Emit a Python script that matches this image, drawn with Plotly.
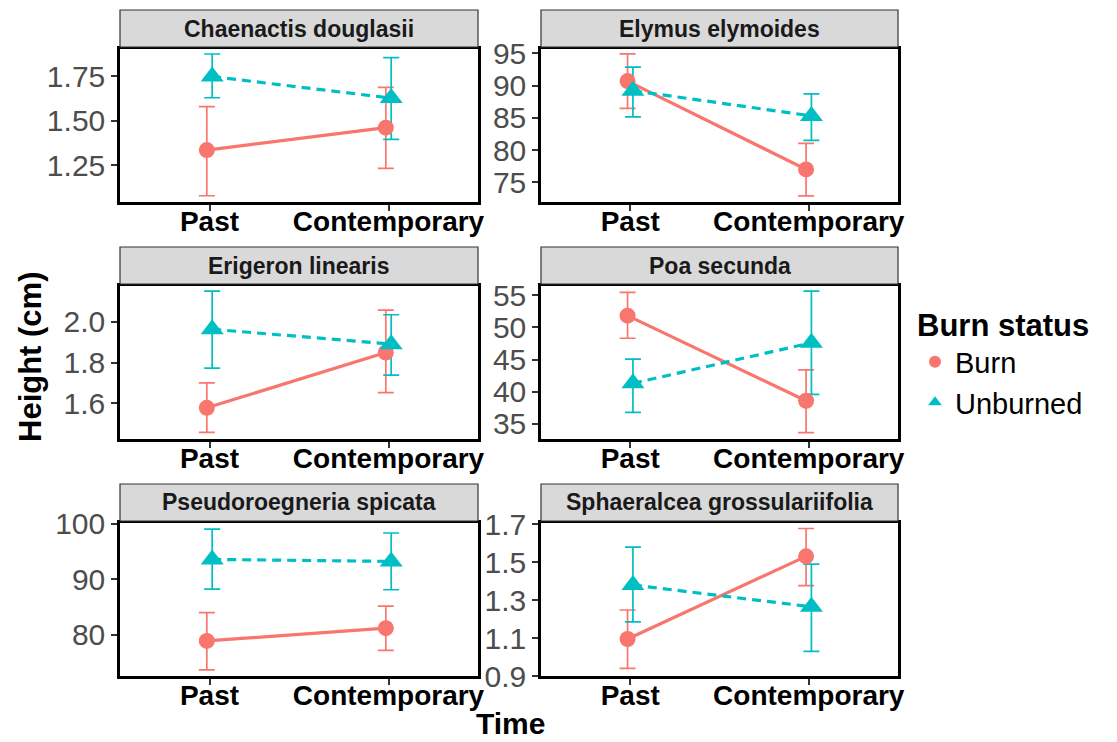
import plotly.graph_objects as go

# ---- data ----
species = ["Chaenactis douglasii", "Elymus elymoides", "Erigeron linearis",
           "Poa secunda", "Pseudoroegneria spicata", "Sphaeralcea grossulariifolia"]
time_labels = ["Past", "Contemporary"]
groups = ["Burn", "Unburned"]

# mean, lower CI, upper CI for [Past, Contemporary]
burn_mean = [[1.334, 1.460], [90.7, 77.0], [1.578, 1.849], [51.8, 38.6], [78.9, 81.2], [1.095, 1.531]]
burn_low = [[1.077, 1.231], [86.45, 72.9], [1.457, 1.652], [48.3, 33.65], [73.7, 77.2], [0.94, 1.377]]
burn_high = [[1.578, 1.686], [94.9, 81.05], [1.700, 2.057], [55.4, 43.4], [84.0, 85.16], [1.248, 1.678]]

unb_mean = [[1.747, 1.626], [89.2, 85.3], [1.963, 1.890], [41.3, 47.6], [93.56, 93.2], [1.38, 1.265]]
unb_low = [[1.628, 1.394], [85.15, 81.5], [1.772, 1.738], [36.8, 39.6], [88.2, 88.1], [1.185, 1.03]]
unb_high = [[1.874, 1.853], [92.85, 88.7], [2.150, 2.034], [45.05, 55.6], [99.0, 98.3], [1.58, 1.49]]

y_ranges = [[1.042, 1.902], [71.95, 95.67], [1.425, 2.175], [32.67, 56.4], [72.6, 100.1], [0.9, 1.707]]
y_ticks = [[1.25, 1.50, 1.75], [75, 80, 85, 90, 95], [1.6, 1.8, 2.0],
           [35, 40, 45, 50, 55], [80, 90, 100], [0.9, 1.1, 1.3, 1.5, 1.7]]
y_ticktext = [["1.25", "1.50", "1.75"], ["75", "80", "85", "90", "95"], ["1.6", "1.8", "2.0"],
              ["35", "40", "45", "50", "55"], ["80", "90", "100"], ["0.9", "1.1", "1.3", "1.5", "1.7"]]

colors = {"Burn": "#F8766D", "Unburned": "#00BFC4"}
symbols = {"Burn": "circle", "Unburned": "triangle-up"}
dashes = {"Burn": "solid", "Unburned": "9px,6px"}
dodge = {"Burn": -0.015, "Unburned": 0.015}

# ---- layout geometry ----
W, H = 1117, 742
col_px = [(120, 478), (541, 898)]
row_px = [(49, 202), (286, 439), (523, 676)]
strip_px = [(10, 47), (247, 284), (484, 521)]

FONT = "Liberation Sans"
fig = go.Figure()
shapes, annotations = [], []
layout_axes = {}

for i, sp in enumerate(species):
    r, c = divmod(i, 2)
    ax = "" if i == 0 else str(i + 1)
    xa, ya = "x" + ax, "y" + ax
    xd = [col_px[c][0] / W, col_px[c][1] / W]
    yd = [1 - row_px[r][1] / H, 1 - row_px[r][0] / H]
    layout_axes["xaxis" + ax] = dict(
        domain=xd, anchor=ya, range=[0.5, 2.5], tickvals=[1, 2], ticktext=time_labels,
        tickfont=dict(family=FONT, size=28, color="black", weight="bold"),
        showline=True, mirror=True, linecolor="black", linewidth=2.5,
        ticks="outside", ticklen=6, tickcolor="#333333", tickwidth=1.5,
        ticklabelstandoff=-13,
        showgrid=False, zeroline=False, fixedrange=True, automargin=False)
    layout_axes["yaxis" + ax] = dict(
        domain=yd, anchor=xa, range=y_ranges[i], tickvals=y_ticks[i], ticktext=y_ticktext[i],
        tickfont=dict(family=FONT, size=30, color="#4D4D4D"),
        showline=True, mirror=True, linecolor="black", linewidth=2.5,
        ticks="outside", ticklen=6, tickcolor="#333333", tickwidth=1.5,
        showgrid=False, zeroline=False, fixedrange=True, automargin=False)

    data = {
        "Burn": (burn_mean[i], burn_low[i], burn_high[i]),
        "Unburned": (unb_mean[i], unb_low[i], unb_high[i]),
    }
    # error bars
    for g in groups:
        m, lo, hi = data[g]
        xs = [1 + dodge[g], 2 + dodge[g]]
        fig.add_trace(go.Scatter(
            x=xs, y=m, mode="markers", xaxis=xa, yaxis=ya, showlegend=False,
            marker=dict(size=1, opacity=0, color=colors[g]),
            error_y=dict(type="data", symmetric=False,
                         array=[h - v for h, v in zip(hi, m)],
                         arrayminus=[v - l for v, l in zip(m, lo)],
                         color=colors[g], thickness=1.7, width=8),
            hoverinfo="skip"))
    # lines
    for g in groups:
        m = data[g][0]
        xs = [1 + dodge[g], 2 + dodge[g]]
        fig.add_trace(go.Scatter(
            x=xs, y=m, mode="lines", xaxis=xa, yaxis=ya, showlegend=False,
            line=dict(color=colors[g], width=3.2, dash=dashes[g]), hoverinfo="skip"))
    # points
    for g in groups:
        m = data[g][0]
        xs = [1 + dodge[g], 2 + dodge[g]]
        fig.add_trace(go.Scatter(
            x=xs, y=m, mode="markers", xaxis=xa, yaxis=ya,
            name=g, legendgroup=g, showlegend=(i == 0),
            marker=dict(color=colors[g], symbol=symbols[g], size=16 if g == "Burn" else 20,
                        line=dict(width=0))))

    # strip
    shapes.append(dict(type="rect", xref="paper", yref="paper",
                       x0=xd[0], x1=xd[1], y0=1 - strip_px[r][1] / H, y1=1 - strip_px[r][0] / H,
                       fillcolor="#D9D9D9", line=dict(color="#333333", width=1.2), layer="above"))
    annotations.append(dict(text=f"<b>{sp}</b>", xref="paper", yref="paper",
                            x=(xd[0] + xd[1]) / 2, y=1 - (strip_px[r][0] + strip_px[r][1]) / 2 / H,
                            xanchor="center", yanchor="middle", showarrow=False,
                            font=dict(family=FONT, size=23, color="#1A1A1A")))

annotations.append(dict(text="<b>Height (cm)</b>", xref="paper", yref="paper",
                        x=30 / W, y=1 - 357 / H, textangle=-90, showarrow=False,
                        xanchor="center", yanchor="middle",
                        font=dict(family=FONT, size=31, color="black")))
annotations.append(dict(text="<b>Time</b>", xref="paper", yref="paper",
                        x=510 / W, y=0, showarrow=False,
                        xanchor="center", yanchor="bottom",
                        font=dict(family=FONT, size=30, color="black")))

fig.update_layout(
    width=W, height=H, margin=dict(l=0, r=0, t=0, b=0, autoexpand=False),
    plot_bgcolor="white", paper_bgcolor="white",
    shapes=shapes, annotations=annotations,
    legend=dict(x=915 / W, y=1 - 296 / H, xanchor="left", yanchor="top",
                title=dict(text="<b>Burn status</b>", font=dict(family=FONT, size=31, color="black")),
                font=dict(family=FONT, size=29, color="black"),
                tracegroupgap=0, itemsizing="constant", bgcolor="rgba(0,0,0,0)"),
    **layout_axes)

fig.write_html("out.html", config={"displayModeBar": False},
               post_script="document.body.style.margin='0px';")
